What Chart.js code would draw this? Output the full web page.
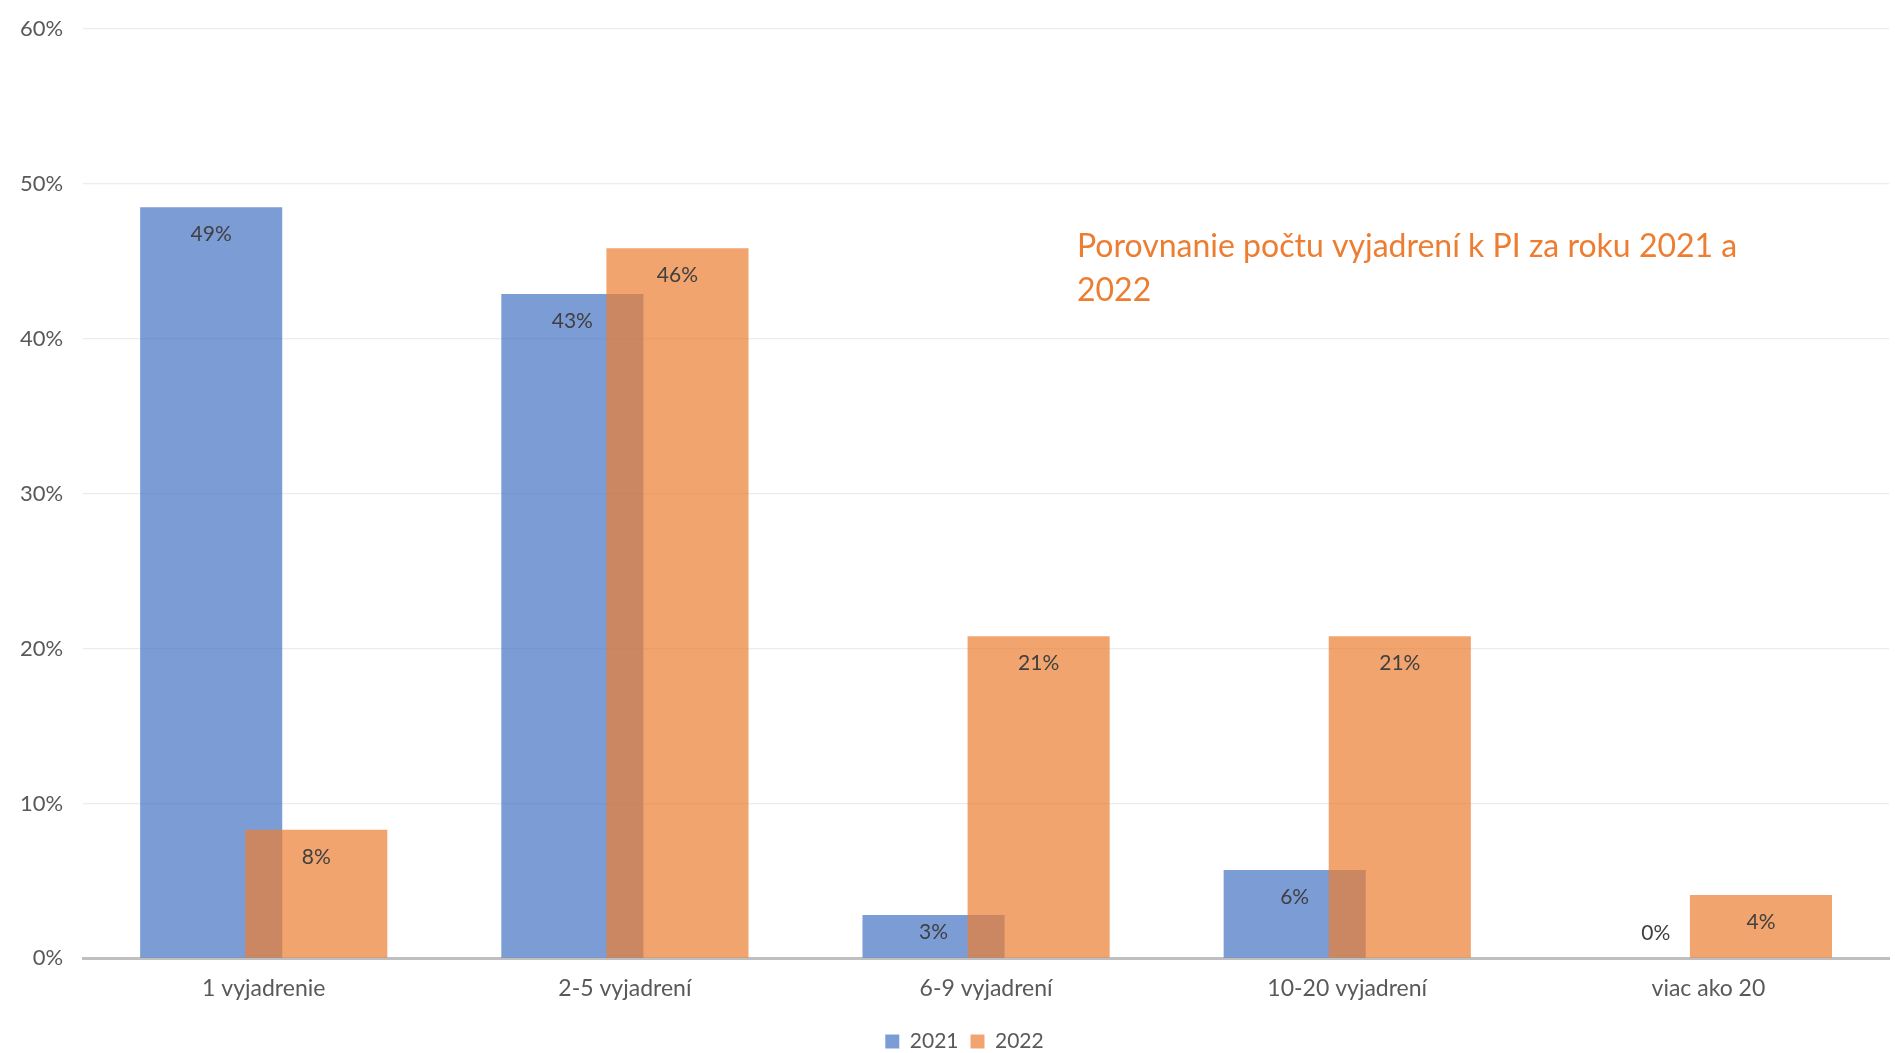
<!DOCTYPE html>
<html>
<head>
<meta charset="utf-8">
<script src="https://cdn.jsdelivr.net/npm/chart.js@4/dist/chart.umd.min.js"></script>
<style>
  html, body { margin: 0; padding: 0; background: #fff; }
  #wrap { width: 1895px; height: 1053px; }
</style>
</head>
<body>
<div id="wrap"><canvas id="chart"></canvas></div>
<script>
const categories = ['1 vyjadrenie', '2-5 vyjadrení', '6-9 vyjadrení', '10-20 vyjadrení', 'viac ako 20'];
const values2021 = [48.5, 42.9, 2.8, 5.7, 0];
const values2022 = [8.3, 45.85, 20.8, 20.8, 4.1];
const titleLines = ['Porovnanie počtu vyjadrení k PI za roku 2021 a', '2022'];

const fontFamily = 'Lato, "Open Sans", sans-serif';

// orange series has to sit on top of the blue one where they overlap
const drawOrder = {
  id: 'drawOrder',
  afterLayout(chart) {
    // legend sits a bit right of center and lower in the original
    chart.legend.left += 20;
    chart.legend.right += 20;
    chart.legend.top += 9;
    chart.legend.bottom += 9;
  },
  beforeDatasetDraw(chart, args) {
    if (args.index === 1) return false;
  },
  afterDatasetsDraw(chart) {
    chart.getDatasetMeta(1).controller.draw();
  }
};

// labels inside the top of each bar, like Excel "inside end"
const barLabels = {
  id: 'barLabels',
  afterDatasetsDraw(chart) {
    const ctx = chart.ctx;
    ctx.save();
    ctx.font = '21px ' + fontFamily;
    ctx.fillStyle = '#404040';
    ctx.textAlign = 'center';
    ctx.textBaseline = 'middle';
    chart.data.datasets.forEach((ds, i) => {
      chart.getDatasetMeta(i).data.forEach((bar, j) => {
        const v = ds.data[j];
        let y;
        if (v > 0) {
          y = Math.min(bar.y + 27, (bar.y + bar.base) / 2 - 4);
        } else {
          y = bar.base - 25;
        }
        ctx.fillText(Math.round(v) + '%', bar.x, y);
      });
    });
    ctx.restore();
  }
};

const chartTitle = {
  id: 'chartTitle',
  afterDraw(chart) {
    const ctx = chart.ctx;
    ctx.save();
    ctx.font = '32px ' + fontFamily;
    ctx.fillStyle = '#ED7D31';
    ctx.textAlign = 'left';
    ctx.textBaseline = 'alphabetic';
    titleLines.forEach((line, i) => {
      ctx.fillText(line, 1077, 257 + i * 44);
    });
    ctx.restore();
  }
};

new Chart(document.getElementById('chart'), {
  type: 'bar',
  data: {
    labels: categories,
    datasets: [
      {
        label: '2021',
        data: values2021,
        backgroundColor: 'rgba(68, 114, 196, 0.7)',
        barPercentage: 1.352,
        categoryPercentage: 0.582
      },
      {
        label: '2022',
        data: values2022,
        backgroundColor: 'rgba(237, 125, 49, 0.7)',
        barPercentage: 1.352,
        categoryPercentage: 0.582
      }
    ]
  },
  options: {
    responsive: true,
    maintainAspectRatio: false,
    animation: false,
    layout: { padding: { left: 0, right: 6, top: 29, bottom: 0 } },
    scales: {
      x: {
        grid: { display: false },
        border: { color: '#BFBFBF', width: 3 },
        ticks: { color: '#595959', font: { family: fontFamily, size: 23 }, padding: 8 }
      },
      y: {
        min: 0,
        max: 60,
        grid: { color: '#ECECEC', lineWidth: 1.3, drawTicks: false },
        border: { display: false },
        ticks: {
          stepSize: 10,
          color: '#595959',
          font: { family: fontFamily, size: 22 },
          padding: 20,
          callback: v => v + '%'
        },
        afterFit(scale) { scale.paddingTop = 0; }
      }
    },
    plugins: {
      legend: {
        position: 'bottom',
        labels: {
          color: '#595959',
          font: { family: fontFamily, size: 21 },
          boxWidth: 14,
          boxHeight: 14,
          padding: 12
        }
      },
      tooltip: { enabled: false }
    }
  },
  plugins: [drawOrder, barLabels, chartTitle]
});
</script>
</body>
</html>
